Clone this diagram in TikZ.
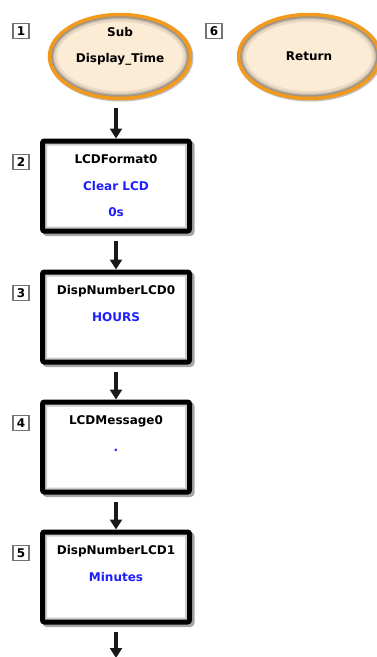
\documentclass[tikz,border=0pt]{standalone}
\usepackage{fontspec}
\setmainfont{DejaVu Sans}
\usetikzlibrary{positioning,shapes.geometric,arrows.meta}
\definecolor{peach}{HTML}{FCEBD5}
\definecolor{amber}{HTML}{F39A1C}
\definecolor{argblue}{HTML}{1E1EFF}
\begin{document}
\begin{tikzpicture}[x=1pt,y=-1pt,
	font=\fontsize{12}{26.5}\selectfont\bfseries,
	term/.style={ellipse, draw=amber, line width=3.5pt, fill=peach, minimum width=141pt, minimum height=84pt, inner sep=0pt,
		preaction={draw=black!25, line width=4pt, transform canvas={shift={(1,1)}}},
		path picture={
			\draw[black, opacity=0.07, line width=15pt] (path picture bounding box.center) ellipse [x radius=70.5, y radius=42];
			\draw[black, opacity=0.12, line width=10pt] (path picture bounding box.center) ellipse [x radius=70.5, y radius=42];
			\draw[black, opacity=0.22, line width=7pt] (path picture bounding box.center) ellipse [x radius=70.5, y radius=42];}},
	frame/.style={draw=black, line width=5pt, rounded corners=2pt, fill=white, minimum width=147pt, minimum height=90pt, inner sep=0pt,
		preaction={draw=black!35, line width=5pt, transform canvas={shift={(2.5,2.5)}}},
		path picture={\draw[black!20, line width=9pt] (path picture bounding box.south west) rectangle (path picture bounding box.north east);}},
	txt/.style={align=center, inner sep=0pt, anchor=north},
	num/.style={draw=black!55, line width=1.1pt, fill=white, minimum width=16pt, minimum height=15pt, inner sep=0pt},
	flow/.style={-{Triangle[width=12pt,length=10pt]}, line width=3.5pt, draw=black!90}]
	\useasboundingbox (0,0) rectangle (376,657);

	\node (S1) at (120,56.5)	[term]	{};
	\node (T1) [txt, below=14pt of S1.north]	{Sub\\Display\_Time};
	\node (N1) at (21,31)	[num]	{1};
	\node (S6) at (309,56.5)	[term]	{Return};
	\node (N6) at (214,31)	[num]	{6};

	\node (B2) at (116,186)	[frame]	{};
	\node (T2) [txt, below=16pt of B2.north]	{LCDFormat0\\ \textcolor{argblue}{Clear LCD}\\ \textcolor{argblue}{0s}};
	\node (N2) at (21,162)	[num]	{2};

	\node (B3) at (116,317)	[frame]	{};
	\node (T3) [txt, below=16pt of B3.north]	{DispNumberLCD0\\ \textcolor{argblue}{HOURS}};
	\node (N3) at (21,293)	[num]	{3};

	\node (B4) at (116,447)	[frame]	{};
	\node (T4) [txt, below=16pt of B4.north]	{LCDMessage0\\ \textcolor{argblue}{.}};
	\node (N4) at (21,423)	[num]	{4};

	\node (B5) at (116,577)	[frame]	{};
	\node (T5) [txt, below=16pt of B5.north]	{DispNumberLCD1\\ \textcolor{argblue}{Minutes}};
	\node (N5) at (21,553)	[num]	{5};
	\coordinate (E) at (116,658);

	\draw[flow, shorten <=8pt] (S1.south -| B2.north) -- (B2.north);
	\draw[flow, shorten <=7pt] (B2.south) -- (B3.north);
	\draw[flow, shorten <=7pt] (B3.south) -- (B4.north);
	\draw[flow, shorten <=7pt] (B4.south) -- (B5.north);
	\draw[flow, shorten <=7pt] (B5.south) -- (E);
\end{tikzpicture}
\end{document}
